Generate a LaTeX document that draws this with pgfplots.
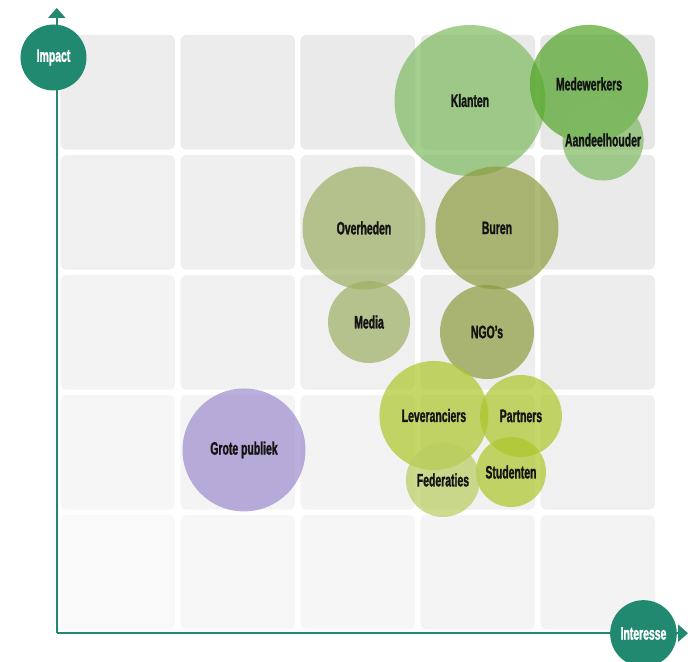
\documentclass[border=0pt]{standalone}
\usepackage{pgfplots}
\pgfplotsset{compat=1.18}
\usepackage{pgfplotstable}
\usepackage{fontspec}
\usetikzlibrary{arrows.meta}
\newfontfamily\cond[FakeStretch=0.58, FakeBold=1.3]{Liberation Sans}
\newcommand\labfont{\cond\bfseries\fontsize{13.5}{15}\selectfont}
\definecolor{teal1}{RGB}{33,137,112}
\definecolor{gA}{RGB}{126,186,96}
\definecolor{gB}{RGB}{81,165,39}
\definecolor{oA}{RGB}{158,175,99}
\definecolor{oB}{RGB}{141,156,62}
\definecolor{yA}{RGB}{172,198,41}
\definecolor{yB}{RGB}{185,205,96}
\definecolor{pA}{RGB}{156,139,205}

% x = Interesse, y = Impact, s = bubble radius (pt)
\pgfplotstableread{
x y s lab
3.433 4.429 56.6 Klanten
}\tKlanten
\pgfplotstableread{
x y s lab
4.425 4.567 44.3 Medewerkers
}\tMedew
\pgfplotstableread{
x y s lab
4.542 4.100 30.4 Aandeelhouder
}\tAandeel
\pgfplotstableread{
x y s lab
2.550 3.367 46.1 Overheden
2.592 2.583 30.75 Media
}\tOliveL
\pgfplotstableread{
x y s lab
3.658 3.367 46.1 Buren
3.575 2.500 35.25 NGO’s
}\tOliveD
\pgfplotstableread{
x y s lab
3.133 1.804 40.9 Leveranciers
3.858 1.800 30.75 Partners
3.775 1.333 26.25 Studenten
}\tYel
\pgfplotstableread{
x y s lab
3.208 1.267 27.75 Federaties
}\tYelL
\pgfplotstableread{
x y s lab
1.550 1.517 46.1 {Grote publiek}
}\tPurple

\newcommand\cell[3]{\fill[black!#3, rounded corners=4.5pt] (axis cs:#1+0.02,#2+0.02) rectangle (axis cs:#1+0.975,#2+0.975);}

\pgfplotsset{
  bub/.style={scatter, only marks, mark=*,
    point meta=explicit, point meta min=0, point meta max=100,
    mark options={draw opacity=0},
    scatter/use mapped color={draw=#1, draw opacity=0, fill=#1, fill opacity=0.7},
    scatter/@pre marker code/.append code={%
      \pgfmathsetmacro\rad{\pgfplotspointmetatransformed/10}%
      \pgfkeysalso{/tikz/mark size=\rad pt, /tikz/draw opacity=0}}},
  lbl/.style={only marks, mark=none, point meta=explicit symbolic,
    nodes near coords, nodes near coords align=center,
    every node near coord/.style={anchor=center, font=\labfont, text=black!92}}
}

\begin{document}
\begin{tikzpicture}
\begin{axis}[
  x=90pt, y=90pt,
  xmin=-0.4833, xmax=5.25, ymin=-0.2417, ymax=5.2667,
  hide axis, clip=false]
\coordinate (bl) at (rel axis cs:0,0);
\coordinate (tr) at (rel axis cs:1,1);
% background cells
\cell{0}{0}{2.5}\cell{1}{0}{3.1}\cell{2}{0}{3.7}\cell{3}{0}{4.3}\cell{4}{0}{4.9}
\cell{0}{1}{3.6}\cell{1}{1}{4.2}\cell{2}{1}{4.8}\cell{3}{1}{5.4}\cell{4}{1}{6.0}
\cell{0}{2}{4.7}\cell{1}{2}{5.3}\cell{2}{2}{5.9}\cell{3}{2}{6.5}\cell{4}{2}{7.1}
\cell{0}{3}{5.8}\cell{1}{3}{6.4}\cell{2}{3}{7.0}\cell{3}{3}{7.6}\cell{4}{3}{8.2}
\cell{0}{4}{6.9}\cell{1}{4}{7.5}\cell{2}{4}{8.1}\cell{3}{4}{8.7}\cell{4}{4}{9.3}
% axes
\draw[teal1, line width=1.1pt, -{Triangle[width=13pt,length=7.5pt]}] (axis cs:-0.01,-0.01) -- (axis cs:-0.01,5.2);
\draw[teal1, line width=1.1pt, -{Triangle[width=13pt,length=7.5pt]}] (axis cs:-0.01,-0.01) -- (axis cs:5.25,-0.01);
% bubbles
\addplot[bub=gA] table[meta=s] {\tKlanten};
\addplot[bub=gB] table[meta=s] {\tMedew};
\addplot[bub=gA] table[meta=s] {\tAandeel};
\addplot[bub=oA] table[meta=s] {\tOliveL};
\addplot[bub=oB] table[meta=s] {\tOliveD};
\addplot[bub=yA] table[meta=s] {\tYel};
\addplot[bub=yB] table[meta=s] {\tYelL};
\addplot[bub=pA] table[meta=s] {\tPurple};
% labels
\addplot[lbl] table[meta=lab] {\tKlanten};
\addplot[lbl] table[meta=lab] {\tMedew};
\addplot[lbl] table[meta=lab] {\tAandeel};
\addplot[lbl] table[meta=lab] {\tOliveL};
\addplot[lbl] table[meta=lab] {\tOliveD};
\addplot[lbl] table[meta=lab] {\tYel};
\addplot[lbl] table[meta=lab] {\tYelL};
\addplot[lbl] table[meta=lab] {\tPurple};
% axis titles
\node[circle, fill=teal1, minimum size=49.5pt, inner sep=0pt, text=white, font=\labfont] at (axis cs:-0.0375,4.7875) {Impact};
\node[circle, fill=teal1, minimum size=50pt, inner sep=0pt, text=white, font=\labfont] at (axis cs:4.879,-0.0125) {Interesse};
\end{axis}
\pgfresetboundingbox
\path (bl) rectangle (tr);
\end{tikzpicture}
\end{document}
